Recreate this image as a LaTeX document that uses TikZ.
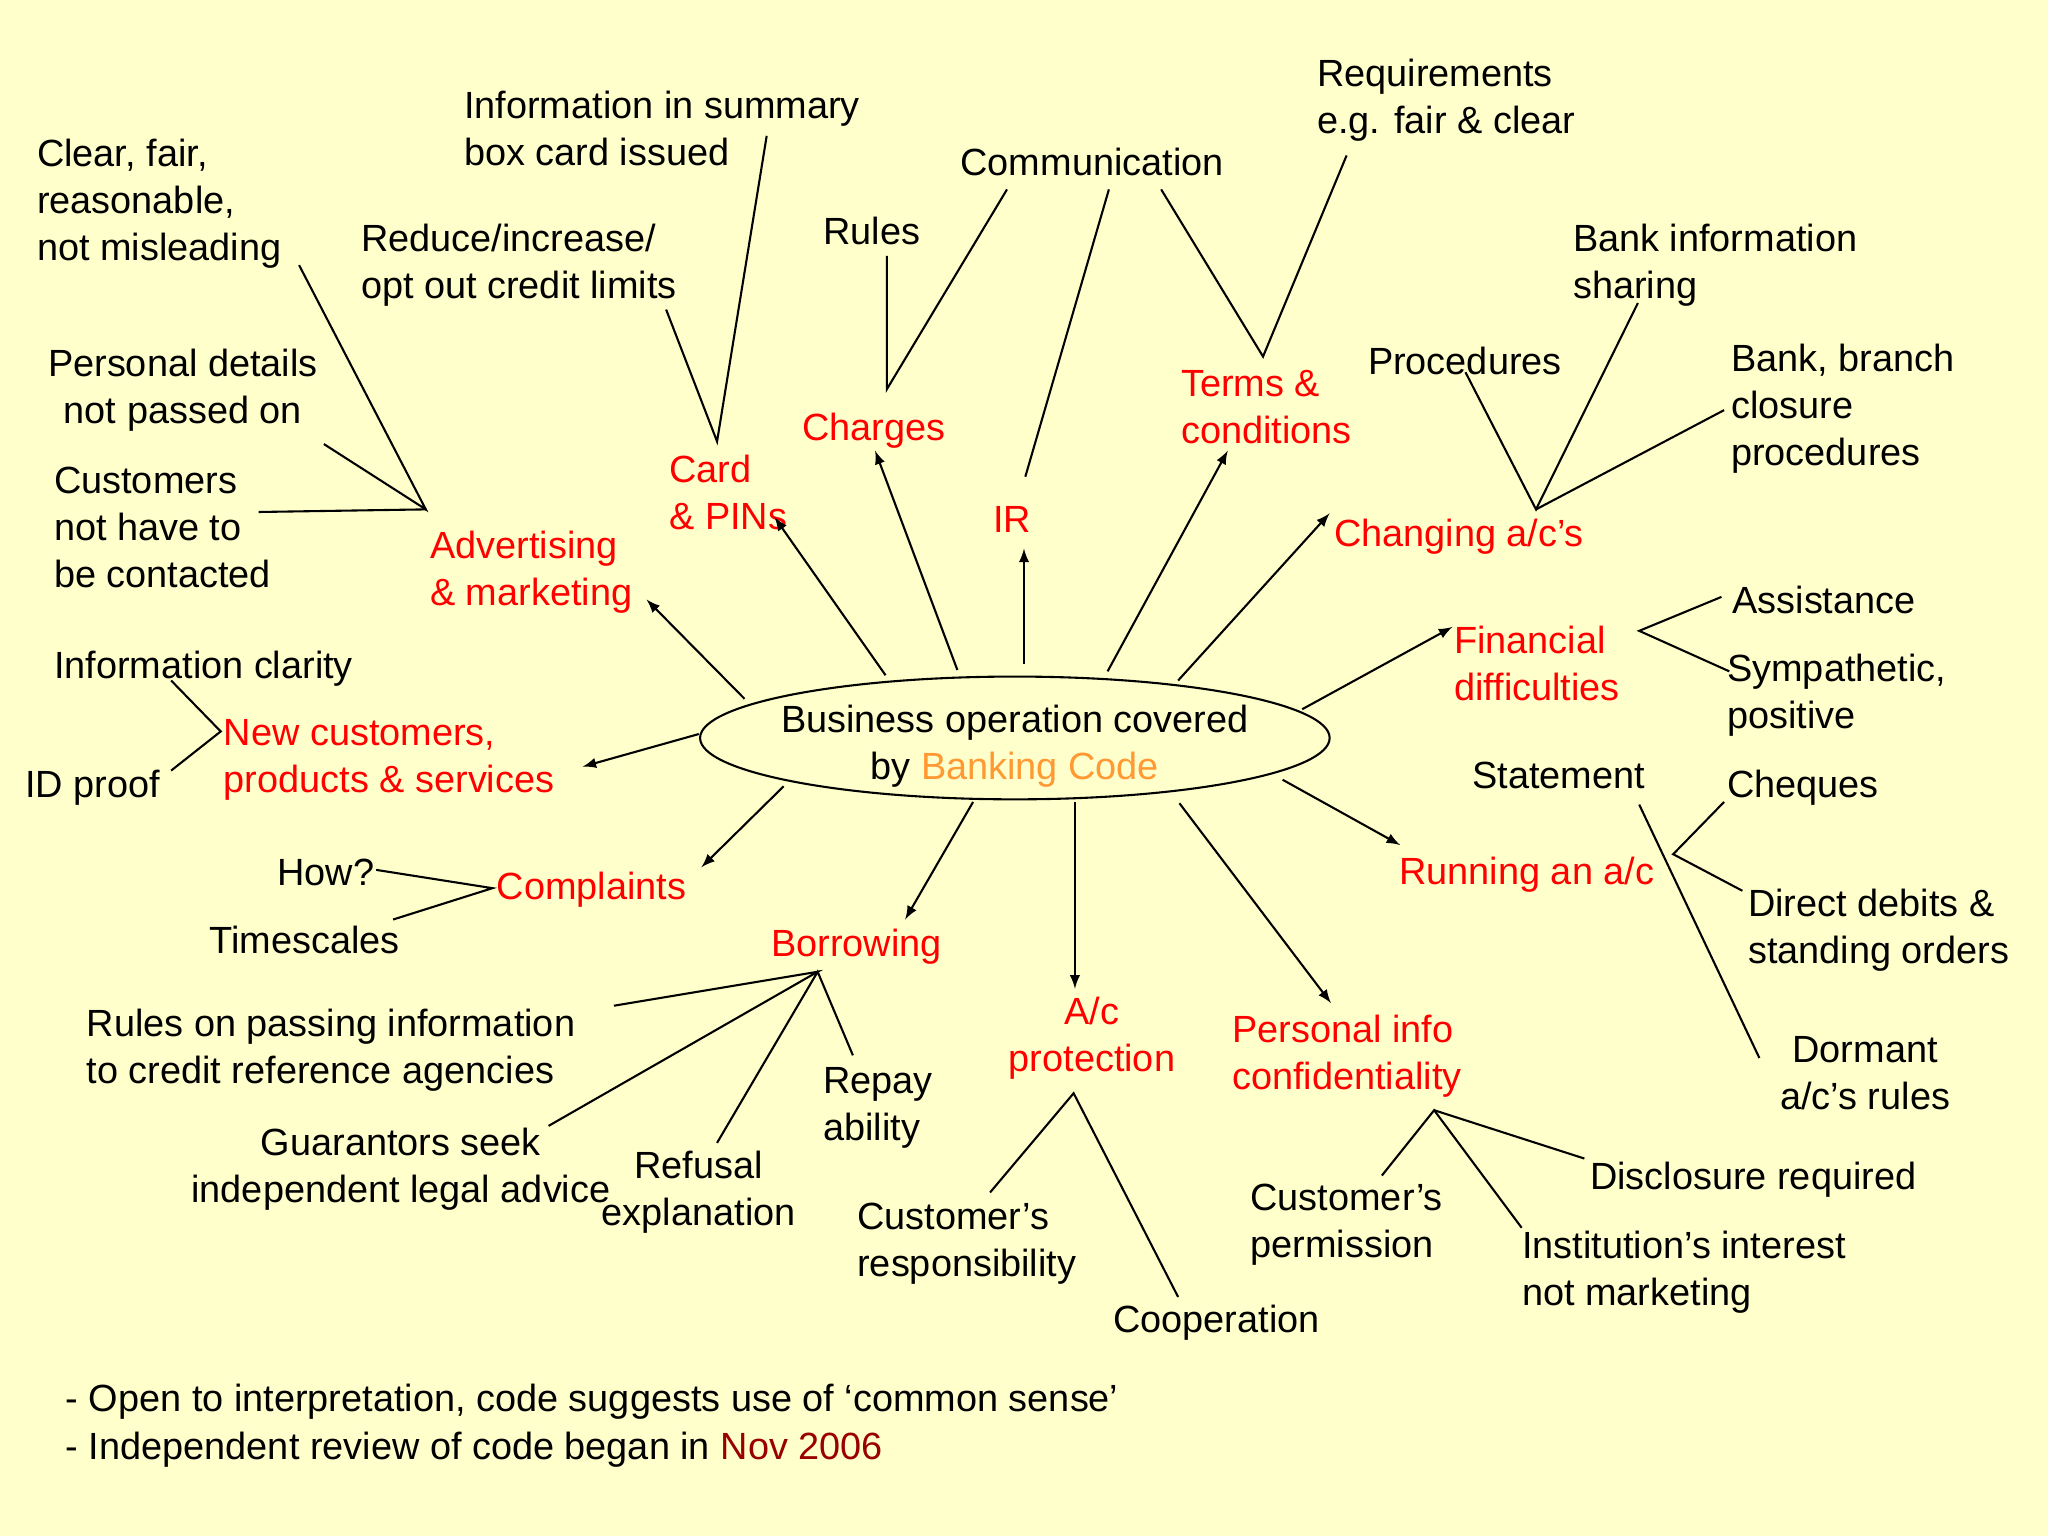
\documentclass[tikz,border=0pt]{standalone}
\usepackage{fontspec}
\setmainfont{Liberation Sans}
\usetikzlibrary{shapes.geometric}
\begin{document}
\begin{tikzpicture}[x=0.5pt,y=-0.5pt,
  t/.style={inner sep=0pt,anchor=west,align=left,font=\fontsize{14.5}{18}\selectfont},
  tc/.style={t,anchor=center,align=center},
  r/.style={text={rgb,255:red,255;green,0;blue,0}},
  ar/.style={-latex,thick,black},
  ln/.style={thick,black}]
\fill[fill={rgb,255:red,255;green,255;blue,204}] (0,0) rectangle (1568,1176);
\useasboundingbox (0,0) rectangle (1568,1176);
% center
\node[draw,thick,ellipse,minimum width=241pt,minimum height=47pt,inner sep=0pt] (ell) at (777,565) {};
\node[tc] (ctext) at (777,571) {Business operation covered\\by \textcolor[RGB]{255,153,51}{Banking Code}};
% red labels
\node[t,r] (adv) at (329,438) {Advertising\\\& marketing};
\node[t,r] (card) at (512,377) {Card\\\& PINs};
\node[t,r] (chg) at (614,330) {Charges};
\node[t,r] (ir) at (760,398) {IR};
\node[t,r] (terms) at (904,312) {Terms \&\\conditions};
\node[t,r] (chac) at (1021,411) {Changing a/c’s};
\node[t,r] (fin) at (1113,508) {Financial\\difficulties};
\node[t,r] (run) at (1071,670) {Running an a/c};
\node[t,r] (pers) at (943,809) {Personal info\\confidentiality};
\node[tc,r] (acp) at (836,795) {A/c\\protection};
\node[t,r] (bor) at (590,725) {Borrowing};
\node[t,r] (comp) at (380,681) {Complaints};
\node[t,r] (newc) at (171,582) {New customers,\\products \& services};
% black labels
\node[t] (clear) at (28,156) {Clear, fair,\\reasonable,\\not misleading};
\node[t] (info) at (355,98) {Information in summary\\box card issued};
\node[t] (reduce) at (276,203) {Reduce/increase/\\opt out credit limits};
\node[t] (rules) at (630,177) {Rules};
\node[t] (comm) at (735,124) {Communication};
\node[t] (req) at (1008,77) {Requirements\\e.g. fair \& clear};
\node[t] (bis) at (1204,203) {Bank information\\sharing};
\node[t] (proc) at (1047,276) {Procedures};
\node[t] (bbc) at (1325,313) {Bank, branch\\closure\\procedures};
\node[tc] (pd) at (140,299) {Personal details\\not passed on};
\node[t] (cust) at (41,404) {Customers\\not have to\\be contacted};
\node[t] (ic) at (41,512) {Information clarity};
\node[t] (idp) at (19,603) {ID proof};
\node[t] (how) at (212,668) {How?};
\node[t] (times) at (160,720) {Timescales};
\node[t] (rpi) at (66,804) {Rules on passing information\\to credit reference agencies};
\node[tc] (guar) at (307,895) {Guarantors seek\\independent legal advice};
\node[tc] (ref) at (535,913) {Refusal\\explanation};
\node[t] (rep) at (630,848) {Repay\\ability};
\node[t] (cr) at (656,952) {Customer’s\\responsibility};
\node[t] (coop) at (852,1013) {Cooperation};
\node[t] (cp) at (957,938) {Customer’s\\permission};
\node[t] (inst) at (1165,974) {Institution’s interest\\not marketing};
\node[t] (disc) at (1217,903) {Disclosure required};
\node[tc] (dorm) at (1428,822) {Dormant\\a/c’s rules};
\node[t] (dd) at (1338,712) {Direct debits \&\\standing orders};
\node[t] (cheq) at (1322,603) {Cheques};
\node[t] (stmt) at (1127,594) {Statement};
\node[t] (assist) at (1326,459) {Assistance};
\node[t] (symp) at (1322,532) {Sympathetic,\\positive};
\node[t] (n1) at (50,1073) {- Open to interpretation, code suggests use of ‘common sense’};
\node[t] (n2) at (50,1110) {- Independent review of code began in \textcolor[RGB]{153,0,0}{Nov 2006}};
% arrows
\draw[ar] (570,535) coordinate (e1) -- (495,459) coordinate (a1);
\draw[ar] (678,517) coordinate (e2) -- (593,396) coordinate (a2);
\draw[ar] (733,513) coordinate (e3) -- (670,345) coordinate (a3);
\draw[ar] (784,508) coordinate (e4) -- (784,420) coordinate (a4);
\draw[ar] (848,514) coordinate (e5) -- (940,345) coordinate (a5);
\draw[ar] (902,521) coordinate (e6) -- (1018,393) coordinate (a6);
\draw[ar] (997,543) coordinate (e7) -- (1112,480) coordinate (a7);
\draw[ar] (535,562) coordinate (e8) -- (446,587) coordinate (a8);
\draw[ar] (600,602) coordinate (e9) -- (537,664) coordinate (a9);
\draw[ar] (745,614) coordinate (e10) -- (693,704) coordinate (a10);
\draw[ar] (823,614) coordinate (e11) -- (823,757) coordinate (a11);
\draw[ar] (903,615) coordinate (e12) -- (1019,768) coordinate (a12);
\draw[ar] (982,597) coordinate (e13) -- (1072,647) coordinate (a13);
% lines
\coordinate (hA) at (326,390);
\draw[ln] (229,203) -- (hA) -- (248,340); \draw[ln] (198,392) -- (hA);
\coordinate (hC) at (549,338);
\draw[ln] (587,104) -- (hC) -- (510,237);
\draw[ln] (679,196) -- (679,298) -- (771,145);
\draw[ln] (849,145) -- (785,365);
\draw[ln] (889,145) -- (967,273) -- (1031,119);
\coordinate (hP) at (1176,390);
\draw[ln] (1122,285) -- (hP) -- (1254,232); \draw[ln] (hP) -- (1320,314);
\draw[ln] (1318,457) -- (1255,483) -- (1324,514);
\draw[ln] (131,521) -- (169,560) -- (131,590);
\draw[ln] (288,666) -- (377,680) -- (301,704);
\coordinate (hB) at (626,744);
\draw[ln] (470,770) -- (hB) -- (420,862); \draw[ln] (549,875) -- (hB) -- (653,808);
\coordinate (hAc) at (822,837);
\draw[ln] (758,913) -- (hAc) -- (902,993);
\coordinate (hPi) at (1098,850);
\draw[ln] (1058,900) -- (hPi) -- (1165,940); \draw[ln] (hPi) -- (1213,887);
\coordinate (hR) at (1281,654);
\draw[ln] (1255,616) -- (1347,810);
\draw[ln] (1320,614) -- (hR) -- (1334,682);
\end{tikzpicture}
\end{document}
